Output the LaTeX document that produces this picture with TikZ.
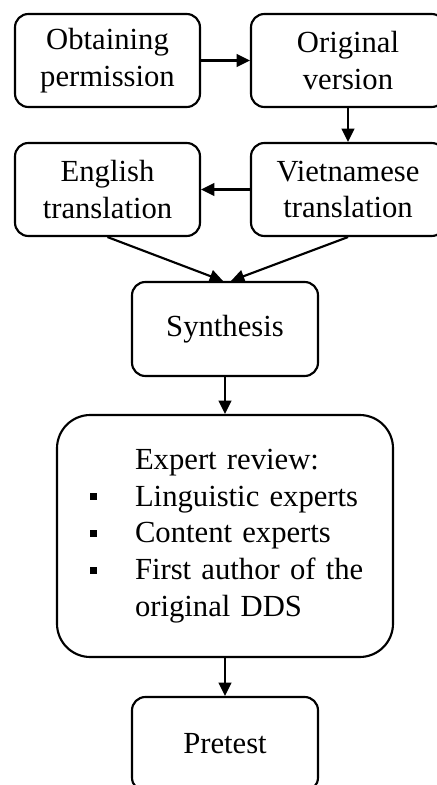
\documentclass[tikz,border=0pt]{standalone}
\usepackage{fontspec}
\setmainfont{Liberation Serif}
\usetikzlibrary{arrows.meta}
\newcommand{\sqbullet}{\llap{\rule[4.5pt]{5.25pt}{5.25pt}\hspace{28.5pt}}}

\begin{document}
\begin{tikzpicture}[x=0.75pt,y=0.75pt,yscale=-1,xscale=1,
  box/.style={draw, line width=1.6pt, rounded corners=10pt, align=center, inner sep=0pt, font=\fontsize{23}{27.5}\selectfont},
  arr/.style={line width=1.6pt, -{Triangle[length=10pt,width=9.5pt]}}]
\useasboundingbox (0,0) rectangle (436,785);

%Shape: Rounded Rect
\node [box, minimum width=138.75pt, minimum height=69.75pt] (perm) at (107.5,60.5) {Obtaining\\permission};
%Shape: Rounded Rect
\node [box, minimum width=145.5pt, minimum height=69.75pt] (orig) at (348,60.5) {Original\\version};
%Shape: Rounded Rect
\node [box, minimum width=145.5pt, minimum height=69.75pt] (viet) at (348,189.5) {Vietnamese\\translation};
%Shape: Rounded Rect
\node [box, minimum width=138.75pt, minimum height=69.75pt] (eng) at (107.5,189.5) {English\\translation};
%Shape: Rounded Rect
\node [box, minimum width=139.5pt, minimum height=70.5pt] (synth) at (225,329) {Synthesis};
%Shape: Rounded Rect
\node [box, rounded corners=25pt, minimum width=252pt, minimum height=181.5pt, text width=252pt, align=left] (expert) at (225,536) {\hspace*{58.5pt}Expert review:\\
\hspace*{58.5pt}\sqbullet Linguistic experts\\
\hspace*{58.5pt}\sqbullet Content experts\\
\hspace*{58.5pt}\sqbullet First author of the\\
\hspace*{58.5pt}original DDS};
%Shape: Rounded Rect
\node [box, minimum width=139.5pt, minimum height=70.5pt] (pretest) at (225,744) {Pretest};

%Straight Lines
\draw [arr] (perm) -- (orig);
%Straight Lines
\draw [arr] (orig) -- (viet);
%Straight Lines
\draw [arr] (viet) -- (eng);
%Straight Lines
\draw [arr] (eng.south) -- ([xshift=-1.5pt]synth.north);
%Straight Lines
\draw [arr] (viet.south) -- ([xshift=4.5pt]synth.north);
%Straight Lines
\draw [arr] (synth) -- (expert);
%Straight Lines
\draw [arr] (expert) -- (pretest);

\end{tikzpicture}
\end{document}
